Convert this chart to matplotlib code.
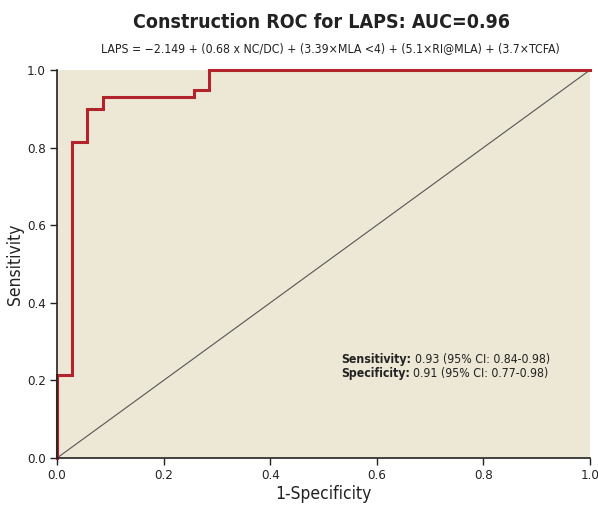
import matplotlib
matplotlib.use("Agg")
import matplotlib.pyplot as plt

plt.rcParams['font.family'] = ['DejaVu Sans']
plt.rcParams['font.stretch'] = 'condensed'

fpr = [0.0, 0.0, 0.0286, 0.0286, 0.0571, 0.0571, 0.0857, 0.0857, 0.2571, 0.2571, 0.2857, 0.2857, 1.0]
tpr = [0.0, 0.214, 0.214, 0.814, 0.814, 0.90, 0.90, 0.930, 0.930, 0.948, 0.948, 1.0, 1.0]
ticks = [0.0, 0.2, 0.4, 0.6, 0.8, 1.0]

fig = plt.figure(figsize=(5.98, 5.14), dpi=100)
ax = fig.add_axes([0.0953, 0.1089, 0.8913, 0.7549])
ax.set_facecolor('#ECE8D5')
ax.plot([0, 1], [0, 1], color='#555555', lw=0.8)
ax.plot(fpr, tpr, color='#B3232B', lw=2.2, solid_joinstyle='miter', clip_on=False)
ax.set_xlim(0, 1)
ax.set_ylim(0, 1)
ax.set_xticks(ticks)
ax.set_yticks(ticks)
ax.set_xticklabels([f"{t:.1f}" for t in ticks], fontsize=9.5, color='#222222')
ax.set_yticklabels([f"{t:.1f}" for t in ticks], fontsize=9.5, color='#222222')
for s in ['top', 'right']:
    ax.spines[s].set_visible(False)
for s in ['left', 'bottom']:
    ax.spines[s].set_color('#222222')
    ax.spines[s].set_linewidth(1.2)
ax.tick_params(direction='out', length=5, width=1, color='#222222', pad=3)
ax.set_xlabel('1-Specificity', fontsize=12.5, color='#222222', labelpad=2)
ax.set_ylabel('Sensitivity', fontsize=12.5, color='#222222', labelpad=2)

fig.text(0.537, 0.957, 'Construction ROC for LAPS: AUC=0.96', ha='center', va='center',
         fontsize=14, fontweight='bold', color='#222222')
fig.text(0.552, 0.905, 'LAPS = \u22122.149 + (0.68 x NC/DC) + (3.39\u00d7MLA <4) + (5.1\u00d7RI@MLA) + (3.7\u00d7TCFA)',
         ha='center', va='center', fontsize=8.8, color='#222222')

fig.canvas.draw()
r = fig.canvas.get_renderer()
labels = ['Sensitivity:', 'Specificity:']
values = ['0.93 (95% CI: 0.84-0.98)', '0.91 (95% CI: 0.77-0.98)']
ys = [0.255, 0.217]
for lab, val, y in zip(labels, values, ys):
    t = ax.text(0.534, y, lab, transform=ax.transAxes, fontsize=8.8, fontweight='bold', color='#222222', va='center')
    bb = t.get_window_extent(renderer=r)
    xa = ax.transAxes.inverted().transform((bb.x1 + 3, 0))[0]
    ax.text(xa, y, val, transform=ax.transAxes, fontsize=8.8, color='#222222', va='center')

fig.savefig('out.png', dpi=100)
